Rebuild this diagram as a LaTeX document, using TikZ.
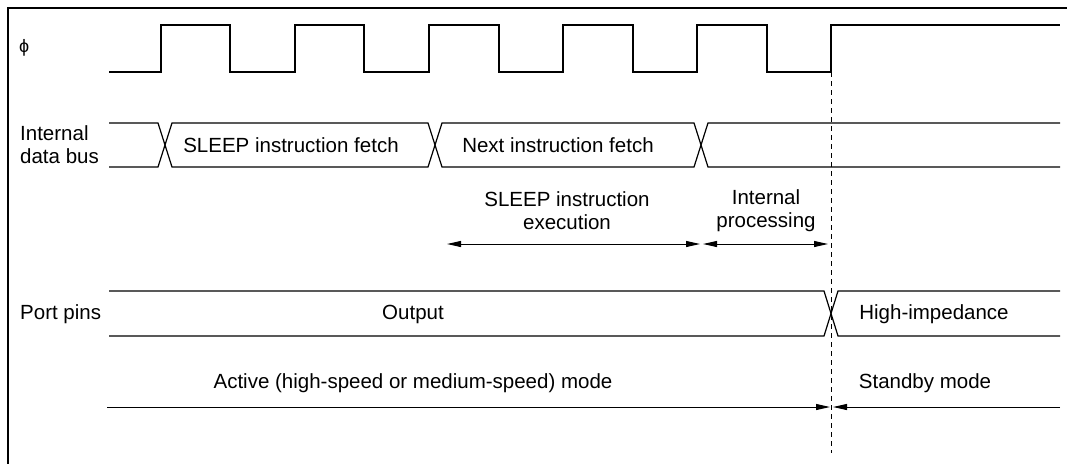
\documentclass[tikz,border=0pt]{standalone}
\usepackage{fontspec}
\setmainfont{Liberation Sans}
\usetikzlibrary{arrows.meta}
\begin{document}
\begin{tikzpicture}[x=1pt,y=-1pt,
  wave/.style={line width=1.2pt,line join=miter},
  lbl/.style={inner sep=0pt,font=\fontsize{20.5}{23}\selectfont},
  dim/.style={line width=1pt,{Triangle[length=14pt,width=6pt]}-{Triangle[length=14pt,width=6pt]}},
  dimr/.style={line width=1pt,-{Triangle[length=14pt,width=6pt]}},
  frame/.style={line width=2.8pt}]
\useasboundingbox (0,0) rectangle (1067,464);
% frame (top and left)
\draw[frame] (1067,8) -- (8,8) -- (8,464);
% clock
\draw[wave] (109,72) -- (161,72) -- (161,25) -- (230,25) -- (230,72) -- (295,72) -- (295,25) -- (364,25) -- (364,72) -- (429,72) -- (429,25) -- (499,25) -- (499,72) -- (563,72) -- (563,25) -- (633,25) -- (633,72) -- (697,72) -- (697,25) -- (767,25) -- (767,72) -- (831,72) -- (831,25) -- (1060,25);
% data bus
\draw[wave] (109,123) -- (158,123) -- (172,167) -- (428,167) -- (442,123) -- (694,123) -- (708,167) -- (1060,167);
\draw[wave] (109,167) -- (158,167) -- (172,123) -- (428,123) -- (442,167) -- (694,167) -- (708,123) -- (1060,123);
% port pins
\draw[wave] (109,291) -- (824,291) -- (838,336) -- (1060,336);
\draw[wave] (109,336) -- (824,336) -- (838,291) -- (1060,291);
% dashed marker
\coordinate (dtop) at (831,72);
\coordinate (dbot) at (831,453);
\draw[line width=1pt,dash pattern=on 5pt off 4pt] (dtop) -- (dbot);
% labels
\node[lbl,anchor=west,font=\fontsize{18}{20}\selectfont] (phi) at (19,48) {ϕ};
\node[lbl,anchor=west,align=left] (idb) at (20,145) {Internal\\data bus};
\node[lbl,anchor=west] (pp) at (20,314) {Port pins};
\node[lbl] (sif) at (291,145) {SLEEP instruction fetch};
\node[lbl] (nif) at (558,145) {Next instruction fetch};
\node[lbl,align=center] (sie) at (567,211) {SLEEP instruction\\execution};
\node[lbl,align=center] (ip) at (766,211) {Internal\\processing};
\node[lbl] (out) at (413,314) {Output};
\node[lbl] (hiz) at (934,314) {High-impedance};
\node[lbl] (act) at (413,383) {Active (high-speed or medium-speed) mode};
\node[lbl] (stb) at (925,383) {Standby mode};
% arrows
\coordinate (e1) at (447,244);
\coordinate (e2) at (700,244);
\coordinate (p1) at (703,244);
\coordinate (p2) at (828,244);
\draw[dim] (e1) -- (e2);
\draw[dim] (p1) -- (p2);
\coordinate (m1) at (107,407);
\coordinate (m2) at (830,407);
\coordinate (m3) at (1060,407);
\coordinate (m4) at (833,407);
\draw[dimr] (m1) -- (m2);
\draw[dimr] (m3) -- (m4);
\end{tikzpicture}
\end{document}
